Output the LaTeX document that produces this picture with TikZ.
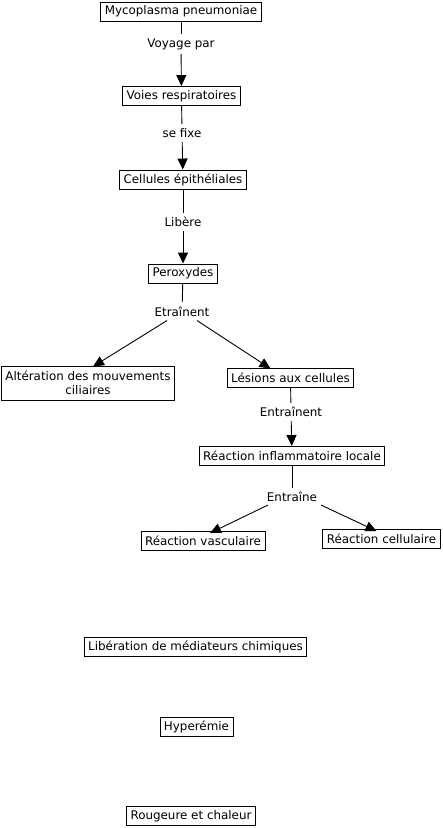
\documentclass[tikz,border=0pt]{standalone}
\usepackage{fontspec}
\setmainfont{DejaVu Sans}
\usetikzlibrary{arrows.meta}
\begin{document}
\begin{tikzpicture}[x=1bp,y=-1bp,
  every node/.style={font=\fontsize{11.9bp}{14bp}\selectfont},
  box/.style={draw,line width=0.9bp,inner xsep=4bp,inner ysep=0bp,minimum height=19bp,align=center},
  lab/.style={inner sep=4bp},
  conn/.style={line width=0.9bp},
  arr/.style={line width=0.9bp,-{Triangle[width=10bp,length=11bp]}}]
\useasboundingbox (0,0) rectangle (443,828);
\node[box] (b1) at (181,11.5) {Mycoplasma pneumoniae};
\node[box] (b2) at (181.5,96) {Voies respiratoires};
\node[box] (b3) at (183,179.5) {Cellules épithéliales};
\node[box] (b4) at (183,273.5) {Peroxydes};
\node[box,minimum height=34bp,inner ysep=1bp] (b5) at (88,383) {Altération des mouvements\\ciliaires};
\node[box] (b6) at (290.5,377.5) {Lésions aux cellules};
\node[box] (b7) at (292,456) {Réaction inflammatoire locale};
\node[box] (b8) at (203,541) {Réaction vasculaire};
\node[box] (b9) at (381.5,539) {Réaction cellulaire};
\node[box] (b10) at (195.5,646.5) {Libération de médiateurs chimiques};
\node[box] (b11) at (196.5,727) {Hyperémie};
\node[box] (b12) at (191,816) {Rougeure et chaleur};

\node[lab] (l1) at (181,44) {Voyage par};
\node[lab] (l2) at (182,133) {se fixe};
\node[lab] (l3) at (183,222) {Libère};
\node[lab] (l4) at (182,311.5) {Etraînent};
\node[lab] (l5) at (291,412) {Entraînent};
\node[lab] (l6) at (292,497) {Entraîne};

\draw[conn] (b1) -- (l1);
\draw[arr] (l1) -- (b2);
\draw[conn] (b2) -- (l2);
\draw[arr] (l2) -- (b3);
\draw[conn] (b3) -- (l3);
\draw[arr] (l3) -- (b4);
\draw[conn] (b4) -- (l4);
\draw[arr] ([xshift=-15bp]l4.south) -- ([xshift=5bp,yshift=-1bp]b5.north);
\draw[arr] ([xshift=15bp]l4.south) -- ([xshift=-20bp,yshift=-1bp]b6.north);
\draw[conn] (b6) -- (l5);
\draw[arr] (l5) -- (b7);
\draw[conn] (b7) -- (l6);
\draw[arr] ([xshift=-24bp,yshift=1bp]l6.south) -- ([xshift=7bp,yshift=-2bp]b8.north);
\draw[arr] ([xshift=29bp,yshift=1bp]l6.south) -- ([xshift=-5bp,yshift=-2bp]b9.north);
\end{tikzpicture}
\end{document}
